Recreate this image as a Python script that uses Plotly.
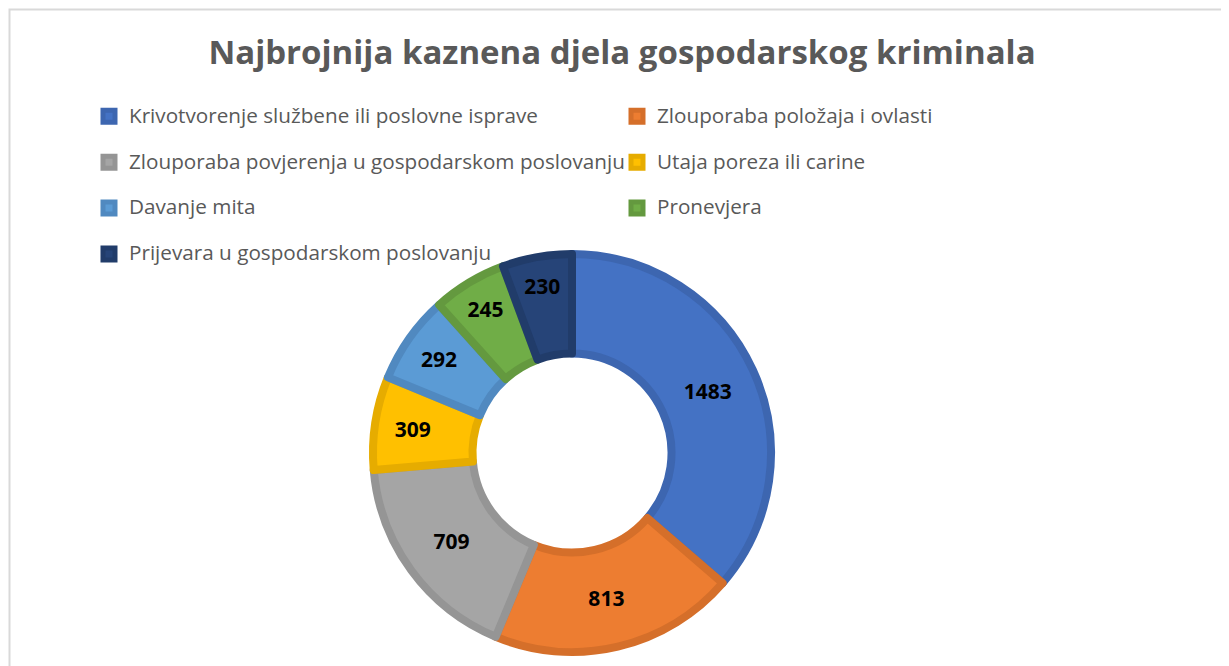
import plotly.graph_objects as go

categories = [
    "Krivotvorenje službene ili poslovne isprave",
    "Zlouporaba položaja i ovlasti",
    "Zlouporaba povjerenja u gospodarskom poslovanju",
    "Utaja poreza ili carine",
    "Davanje mita",
    "Pronevjera",
    "Prijevara u gospodarskom poslovanju",
]
values = [1483, 813, 709, 309, 292, 245, 230]
fill_colors = ["#4472C4", "#ED7D31", "#A5A5A5", "#FFC000", "#5B9BD5", "#70AD47", "#264478"]
edge_colors = ["#3D66B0", "#D56F2A", "#959595", "#E6AC00", "#5089C0", "#64993F", "#213C6A"]

# page body has an 8px margin; figure coordinates = reference pixel - 8
OFF = 8
W, H = 1229 - OFF, 666 - OFF
cx, cy, R = 572 - OFF, 453 - OFF, 199

legend_labels = ['<span style="font-size:20.7px">' + c + '</span><br> ' for c in categories]

fig = go.Figure()
fig.add_trace(go.Pie(
    labels=legend_labels,
    values=values,
    sort=False,
    direction="clockwise",
    rotation=0,
    hole=0.5,
    marker=dict(colors=fill_colors, line=dict(color=edge_colors, width=8)),
    textinfo="value",
    textposition="inside",
    insidetextorientation="horizontal",
    textfont=dict(family="Open Sans", size=21, color="black", weight="bold"),
    domain=dict(x=[(cx - R) / W, (cx + R) / W], y=[1 - (cy + R) / H, 1 - (cy - R) / H]),
    hoverinfo="value",
))

fig.update_layout(
    width=W, height=H,
    margin=dict(l=0, r=0, t=0, b=0, autoexpand=False),
    paper_bgcolor="white",
    title=dict(
        text="Najbrojnija kaznena djela gospodarskog kriminala",
        font=dict(family="Open Sans", size=33, color="#595959", weight="bold"),
        x=(622 - OFF) / W, xanchor="center", y=1 - (52 - OFF) / H, yanchor="middle",
    ),
    legend=dict(
        orientation="h",
        x=(89 - OFF) / W, xanchor="left",
        y=1 - (99 - OFF) / H, yanchor="top",
        entrywidth=483, entrywidthmode="pixels",
        valign="top",
        bgcolor="rgba(0,0,0,0)",
        font=dict(family="Open Sans", size=16.5, color="#595959"),
        itemwidth=30,
        traceorder="normal",
    ),
    shapes=[dict(
        type="rect", xref="paper", yref="paper",
        x0=1.5 / W, x1=1.05, y0=-0.05, y1=1 - 1.5 / H,
        line=dict(color="#D9D9D9", width=2), fillcolor="rgba(0,0,0,0)", layer="below",
    )],
)

fig.write_html("out.html")
